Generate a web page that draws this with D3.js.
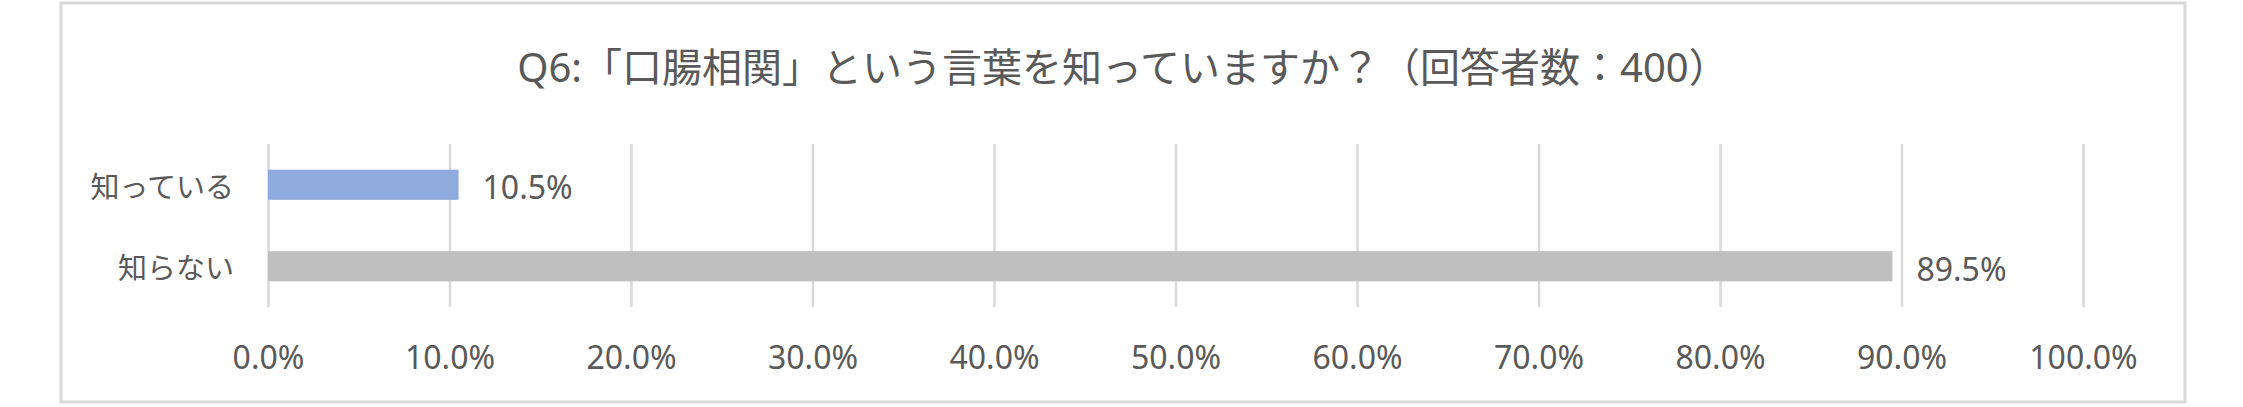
<!DOCTYPE html>
<html>
<head>
<meta charset="utf-8">
<script src="https://cdn.jsdelivr.net/npm/d3@7"></script>
<style>
  body { margin: 0; background: #fff; }
  text { font-family: "Noto Sans", "Noto Sans CJK JP", sans-serif; fill: #595959; }
</style>
</head>
<body>
<div id="chart"></div>
<script>
// chart data
var titleText = "Q6:「口腸相関」という言葉を知っていますか？（回答者数：400）";
var categories = ["知っている", "知らない"];
var values = [0.105, 0.895];
var barColors = ["#8FAADC", "#BFBFBF"];
var tickValues = [0, 0.1, 0.2, 0.3, 0.4, 0.5, 0.6, 0.7, 0.8, 0.9, 1.0];

var W = 2243, H = 407;
var plot = {left: 268, right: 2083, top: 144, bottom: 307};

var svg = d3.select("#chart").append("svg")
    .attr("width", W)
    .attr("height", H);

// outer frame
svg.append("rect")
    .attr("x", 61)
    .attr("y", 3)
    .attr("width", 2124)
    .attr("height", 399)
    .attr("fill", "#fff")
    .attr("stroke", "#D9D9D9")
    .attr("stroke-width", 3);

svg.append("text")
    .attr("x", 1123)
    .attr("y", 66)
    .attr("text-anchor", "middle")
    .attr("dominant-baseline", "central")
    .style("font-size", "40px")
    .text(titleText);

var xScale = d3.scaleLinear()
    .domain([0, 1])
    .range([plot.left, plot.right]);

var yScale = d3.scaleBand()
    .domain(categories)
    .range([plot.top, plot.bottom])
    .paddingInner(0.63)
    .paddingOuter(0.315);

// gridlines + tick labels
var xAxis = d3.axisBottom(xScale)
    .tickValues(tickValues)
    .tickFormat(d3.format(".1%"))
    .tickSize(-(plot.bottom - plot.top));

var gx = svg.append("g")
    .attr("transform", "translate(0," + plot.bottom + ")")
    .call(xAxis);
gx.select(".domain").remove();
gx.selectAll(".tick line")
    .attr("stroke", "#D9D9D9")
    .attr("stroke-width", 2.5);
gx.selectAll(".tick text")
    .attr("y", 49)
    .attr("dy", null)
    .attr("dominant-baseline", "central")
    .style("font-size", "32px")
    .style("font-family", "\"Noto Sans\", sans-serif")
    .attr("fill", "#595959");

// category labels
svg.selectAll(".cat-label")
    .data(categories)
    .enter().append("text")
    .attr("class", "cat-label")
    .attr("x", plot.left - 34)
    .attr("y", function(d) { return yScale(d) + yScale.bandwidth() / 2; })
    .attr("text-anchor", "end")
    .attr("dominant-baseline", "central")
    .style("font-size", "29px")
    .style("font-family", "\"Noto Sans CJK JP\", sans-serif")
    .text(function(d) { return d; });

// bars
svg.selectAll(".bar")
    .data(values)
    .enter().append("rect")
    .attr("class", "bar")
    .attr("x", xScale(0))
    .attr("y", function(d, i) { return yScale(categories[i]); })
    .attr("width", function(d) { return xScale(d) - xScale(0); })
    .attr("height", yScale.bandwidth())
    .attr("fill", function(d, i) { return barColors[i]; });

// value labels
svg.selectAll(".val-label")
    .data(values)
    .enter().append("text")
    .attr("class", "val-label")
    .attr("x", function(d) { return xScale(d) + 24; })
    .attr("y", function(d, i) { return yScale(categories[i]) + yScale.bandwidth() / 2 + 2; })
    .attr("dominant-baseline", "central")
    .style("font-size", "32px")
    .text(function(d) { return d3.format(".1%")(d); });
</script>
</body>
</html>
